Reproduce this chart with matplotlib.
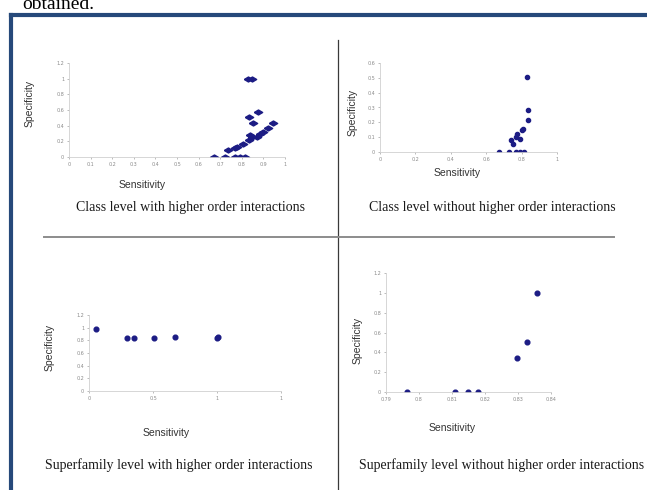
import matplotlib.pyplot as plt
from matplotlib.lines import Line2D

W, H = 647, 490

# panel 1: class level with higher order interactions
class_hoi_sens = [0.672, 0.722, 0.768, 0.791, 0.813, 0.737, 0.768, 0.776, 0.807, 0.835, 0.838,
                  0.848, 0.869, 0.884, 0.896, 0.92, 0.946, 0.853, 0.832, 0.876, 0.83, 0.845]
class_hoi_spec = [0, 0, 0, 0, 0, 0.085, 0.11, 0.13, 0.17, 0.22, 0.285,
                  0.26, 0.26, 0.29, 0.32, 0.37, 0.43, 0.44, 0.51, 0.58, 1.0, 1.0]

# panel 2: class level without higher order interactions
class_nohoi_sens = [0.675, 0.726, 0.768, 0.789, 0.811, 0.75, 0.74, 0.79, 0.77, 0.774, 0.80, 0.808, 0.834, 0.834, 0.83]
class_nohoi_spec = [0, 0, 0, 0, 0, 0.056, 0.083, 0.085, 0.10, 0.124, 0.15, 0.157, 0.213, 0.285, 0.506]

# panel 3: superfamily level with higher order interactions
sfam_hoi_sens = [0.057, 0.293, 0.35, 0.506, 0.674, 1.0, 1.01]
sfam_hoi_spec = [0.984, 0.837, 0.837, 0.837, 0.858, 0.84, 0.845]

# panel 4: superfamily level without higher order interactions
sfam_nohoi_sens = [0.7963, 0.8109, 0.8147, 0.8178, 0.8296, 0.8326, 0.8357]
sfam_nohoi_spec = [0, 0, 0, 0, 0.34, 0.504, 1.0]

captions = ['Class level with higher order interactions',
            'Class level without higher order interactions',
            'Superfamily level with higher order interactions',
            'Superfamily level without higher order interactions']

navy = '#1c1c84'
grey_txt = '#8a8a8a'


def fx(x):
    return x / W


def fy(y):
    return 1 - y / H


def make_axes(fig, left, top, right, bottom):
    ax = fig.add_axes([fx(left), fy(bottom), (right - left) / W, (bottom - top) / H])
    for s in ['top', 'right']:
        ax.spines[s].set_visible(False)
    for s in ['left', 'bottom']:
        ax.spines[s].set_color('#d0d0d0')
        ax.spines[s].set_linewidth(0.6)
    ax.tick_params(labelsize=3.5, colors=grey_txt, length=1.5, width=0.4, pad=2)
    ax.patch.set_alpha(0)
    return ax


fig = plt.figure(figsize=(W / 100, H / 100), dpi=100)
fig.patch.set_facecolor('white')

# text above the figure box (cut by the top edge, as in the scan)
fig.text(fx(22), fy(9), 'obtained.', fontsize=14, family='Liberation Serif', va='baseline', ha='left')

# blue frame
fig.add_artist(Line2D([fx(11), fx(W + 5)], [fy(15), fy(15)], transform=fig.transFigure, color='#26497a', lw=3))
fig.add_artist(Line2D([fx(11), fx(11)], [fy(15), fy(H + 5)], transform=fig.transFigure, color='#26497a', lw=3))

# dividers
fig.add_artist(Line2D([fx(338), fx(338)], [fy(40), fy(H)], transform=fig.transFigure, color='#3a3a3a', lw=0.9))
fig.add_artist(Line2D([fx(44), fx(614)], [fy(237), fy(237)], transform=fig.transFigure, color='#8c8c8c', lw=1.4))

diamond = [(-1, 0), (0, 0.6), (1, 0), (0, -0.6), (-1, 0)]

# panel 1
ax1 = make_axes(fig, 69, 63, 285, 157)
ax1.plot(class_hoi_sens, class_hoi_spec, linestyle='none', marker=diamond, markersize=6, color=navy)
ax1.set_xlim(0, 1)
ax1.set_ylim(0, 1.2)
ax1.set_xticks([i / 10 for i in range(11)])
ax1.set_xticklabels(['0', '0.1', '0.2', '0.3', '0.4', '0.5', '0.6', '0.7', '0.8', '0.9', '1'])
ax1.set_yticks([0, 0.2, 0.4, 0.6, 0.8, 1, 1.2])
ax1.set_yticklabels(['0', '0.2', '0.4', '0.6', '0.8', '1', '1.2'])

# panel 2
ax2 = make_axes(fig, 380, 63, 557, 152)
ax2.plot(class_nohoi_sens, class_nohoi_spec, linestyle='none', marker='o', markersize=3, color=navy)
ax2.set_xlim(0, 1)
ax2.set_ylim(0, 0.6)
ax2.set_xticks([0, 0.2, 0.4, 0.6, 0.8, 1])
ax2.set_xticklabels(['0', '0.2', '0.4', '0.6', '0.8', '1'])
ax2.set_yticks([0, 0.1, 0.2, 0.3, 0.4, 0.5, 0.6])
ax2.set_yticklabels(['0', '0.1', '0.2', '0.3', '0.4', '0.5', '0.6'])

# panel 3
ax3 = make_axes(fig, 89, 315, 281, 391)
ax3.plot(sfam_hoi_sens, sfam_hoi_spec, linestyle='none', marker='o', markersize=3.4, color=navy)
ax3.set_xlim(0, 1.5)
ax3.set_ylim(0, 1.2)
ax3.set_xticks([0, 0.5, 1, 1.5])
ax3.set_xticklabels(['0', '0.5', '1', '1'])
ax3.set_yticks([0, 0.2, 0.4, 0.6, 0.8, 1, 1.2])
ax3.set_yticklabels(['0', '0.2', '0.4', '0.6', '0.8', '1', '1.2'])

# panel 4
ax4 = make_axes(fig, 386, 273, 551, 392)
ax4.plot(sfam_nohoi_sens, sfam_nohoi_spec, linestyle='none', marker='o', markersize=3.4, color=navy)
ax4.set_xlim(0.79, 0.84)
ax4.set_ylim(0, 1.2)
ax4.set_xticks([0.79, 0.8, 0.81, 0.82, 0.83, 0.84])
ax4.set_xticklabels(['0.79', '0.8', '0.81', '0.82', '0.83', '0.84'])
ax4.set_yticks([0, 0.2, 0.4, 0.6, 0.8, 1, 1.2])
ax4.set_yticklabels(['0', '0.2', '0.4', '0.6', '0.8', '1', '1.2'])

# axis titles
lab = dict(fontsize=7.5, family='Liberation Sans', color='#333333', ha='center', va='center')
for (xx, xy), (yx, yy) in [((142, 185), (30, 103)), ((457, 173), (353, 112)),
                           ((166, 433), (50, 347)), ((452, 428), (358, 340))]:
    fig.text(fx(xx), fy(xy), 'Sensitivity', **lab)
    fig.text(fx(yx), fy(yy), 'Specificity', rotation=90, **lab)

# captions
cap = dict(fontsize=10, family='Liberation Serif', color='#1a1a1a', ha='center', va='center')
for txt, (cx, cy) in zip(captions, [(191, 207), (492, 207), (179, 465), (502, 465)]):
    fig.text(fx(cx), fy(cy), txt, **cap)

plt.savefig('out.png', dpi=100)
